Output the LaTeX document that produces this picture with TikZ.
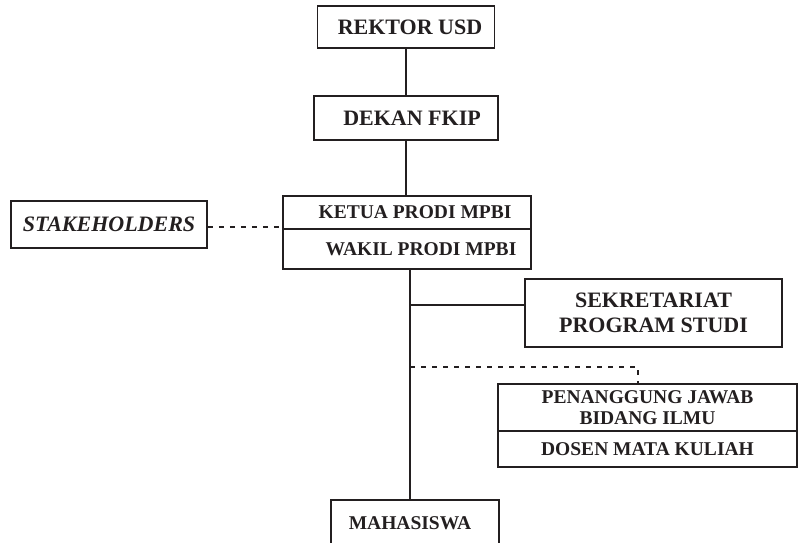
\documentclass[tikz,border=0pt]{standalone}
\usepackage{fontspec}
\setmainfont{Liberation Serif}
\definecolor{ink}{HTML}{231F20}
\begin{document}
\begin{tikzpicture}[x=1pt,y=-1pt,
  box/.style={draw=ink,line width=1.8pt,inner sep=0pt,text=ink,align=center,font=\bfseries\fontsize{22}{25}\selectfont},
  small/.style={font=\bfseries\fontsize{19.5}{21}\selectfont},
  conn/.style={draw=ink,line width=1.8pt},
  dconn/.style={draw=ink,line width=1.8pt,dash pattern=on 5pt off 6pt}]
\useasboundingbox (0,0) rectangle (800,542);
\clip (0,0) rectangle (800,542);
\node[box,minimum width=177pt,minimum height=42pt] (rektor) at (406,27) {\hspace*{8pt}REKTOR USD};
\node[box,minimum width=184pt,minimum height=44pt] (dekan) at (406,118) {\hspace*{12pt}DEKAN FKIP};
\node[box,small,minimum width=248pt,minimum height=33pt] (ketua) at (407,212.5) {\hspace*{16pt}KETUA PRODI MPBI};
\node[box,small,minimum width=248pt,minimum height=40pt] (wakil) at (407,249) {\hspace*{28pt}WAKIL PRODI MPBI};
\node[box,minimum width=196pt,minimum height=47pt,font=\bfseries\itshape\fontsize{22}{23}\selectfont] (stake) at (109,224.5) {STAKEHOLDERS};
\node[box,minimum width=257pt,minimum height=68pt] (sekr) at (653.5,313) {SEKRETARIAT\\PROGRAM STUDI};
\node[box,small,minimum width=299pt,minimum height=47pt] (peng) at (647.5,407.5) {PENANGGUNG JAWAB\\BIDANG ILMU};
\node[box,small,minimum width=299pt,minimum height=36pt] (dosen) at (647.5,449) {DOSEN MATA KULIAH};
\node[box,small,minimum width=168pt,minimum height=46pt] (maha) at (415,523) {\hspace*{-10pt}MAHASISWA};
\coordinate (top) at (410,269);
\coordinate (j1) at (410,305);
\coordinate (j2) at (410,367);
\coordinate (d1) at (638,367);
\coordinate (s1) at (283,227);
\draw[conn] (rektor.south) -- (rektor.south |- dekan.north);
\draw[conn] (dekan.south) -- (dekan.south |- ketua.north);
\draw[conn] (top) -- (top |- maha.north);
\draw[conn] (j1) -- (j1 -| sekr.west);
\draw[dconn] (j2) -- (d1) -- (d1 |- peng.north);
\draw[dconn] (stake.east |- s1) -- (s1);
\end{tikzpicture}
\end{document}
